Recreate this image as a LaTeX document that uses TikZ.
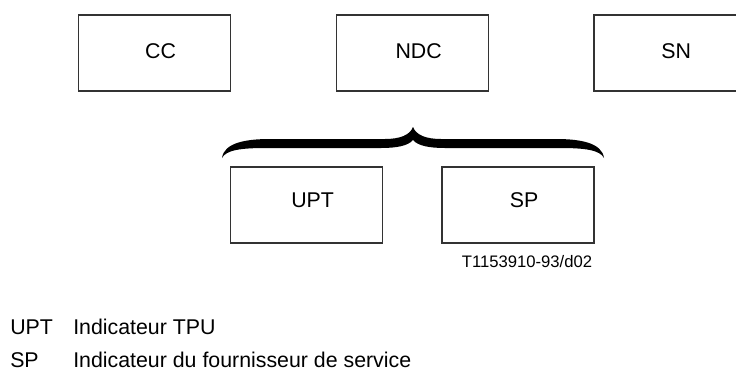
\documentclass[tikz,border=0pt]{standalone}
\usepackage{fontspec}
\setmainfont{Liberation Sans}
\usepackage{tikz}

\begin{document}
\begin{tikzpicture}[x=0.75pt, y=-0.75pt,
            box/.style={draw=black!80, line width=0.8pt, minimum width=114pt, minimum height=57pt, inner sep=0pt},
            lbl/.style={font=\fontsize{16}{19}\selectfont, inner sep=0pt, xshift=4.6pt},
            ref/.style={font=\fontsize{12.5}{15}\selectfont, inner sep=0pt, anchor=base},
            legend/.style={font=\fontsize{16}{19}\selectfont, inner sep=0pt, anchor=base west}
        ]
            \useasboundingbox (0,0) rectangle (736,369);

            % Top row
            \foreach \name/\txt/\x in {cc/CC/154.5, ndc/NDC/412.5, sn/SN/670}
                \node[box, label={[lbl, yshift=1.7pt]center:\txt}] (\name) at (\x,53) {};

            % Bottom row
            \foreach \name/\txt/\x in {upt/UPT/306.5, sp/SP/518}
                \node[box, label={[lbl, yshift=3.6pt]center:\txt}] (\name) at (\x,205) {};

            % Brace
            \fill (222,158) .. controls (224,143) and (245,139) .. (270,139) -- (385,139)
                .. controls (400,139) and (410,135) .. (413,127)
                .. controls (416,135) and (426,139) .. (441,139) -- (556,139)
                .. controls (581,139) and (602,143) .. (604,158)
                .. controls (600,150) and (585,148) .. (560,148) -- (445,148)
                .. controls (430,148) and (418,146) .. (413,140)
                .. controls (408,146) and (396,148) .. (381,148) -- (266,148)
                .. controls (241,148) and (226,150) .. (222,158) -- cycle;

            \node[ref] (refno) at (527,267) {T1153910-93/d02};

            % Legend
            \node[legend] (k1) at (10,334) {UPT};
            \node[legend] (v1) at (73,334) {Indicateur TPU};
            \node[legend] (k2) at (10,367) {SP};
            \node[legend] (v2) at (73,367) {Indicateur du fournisseur de service};
        \end{tikzpicture}
\end{document}
